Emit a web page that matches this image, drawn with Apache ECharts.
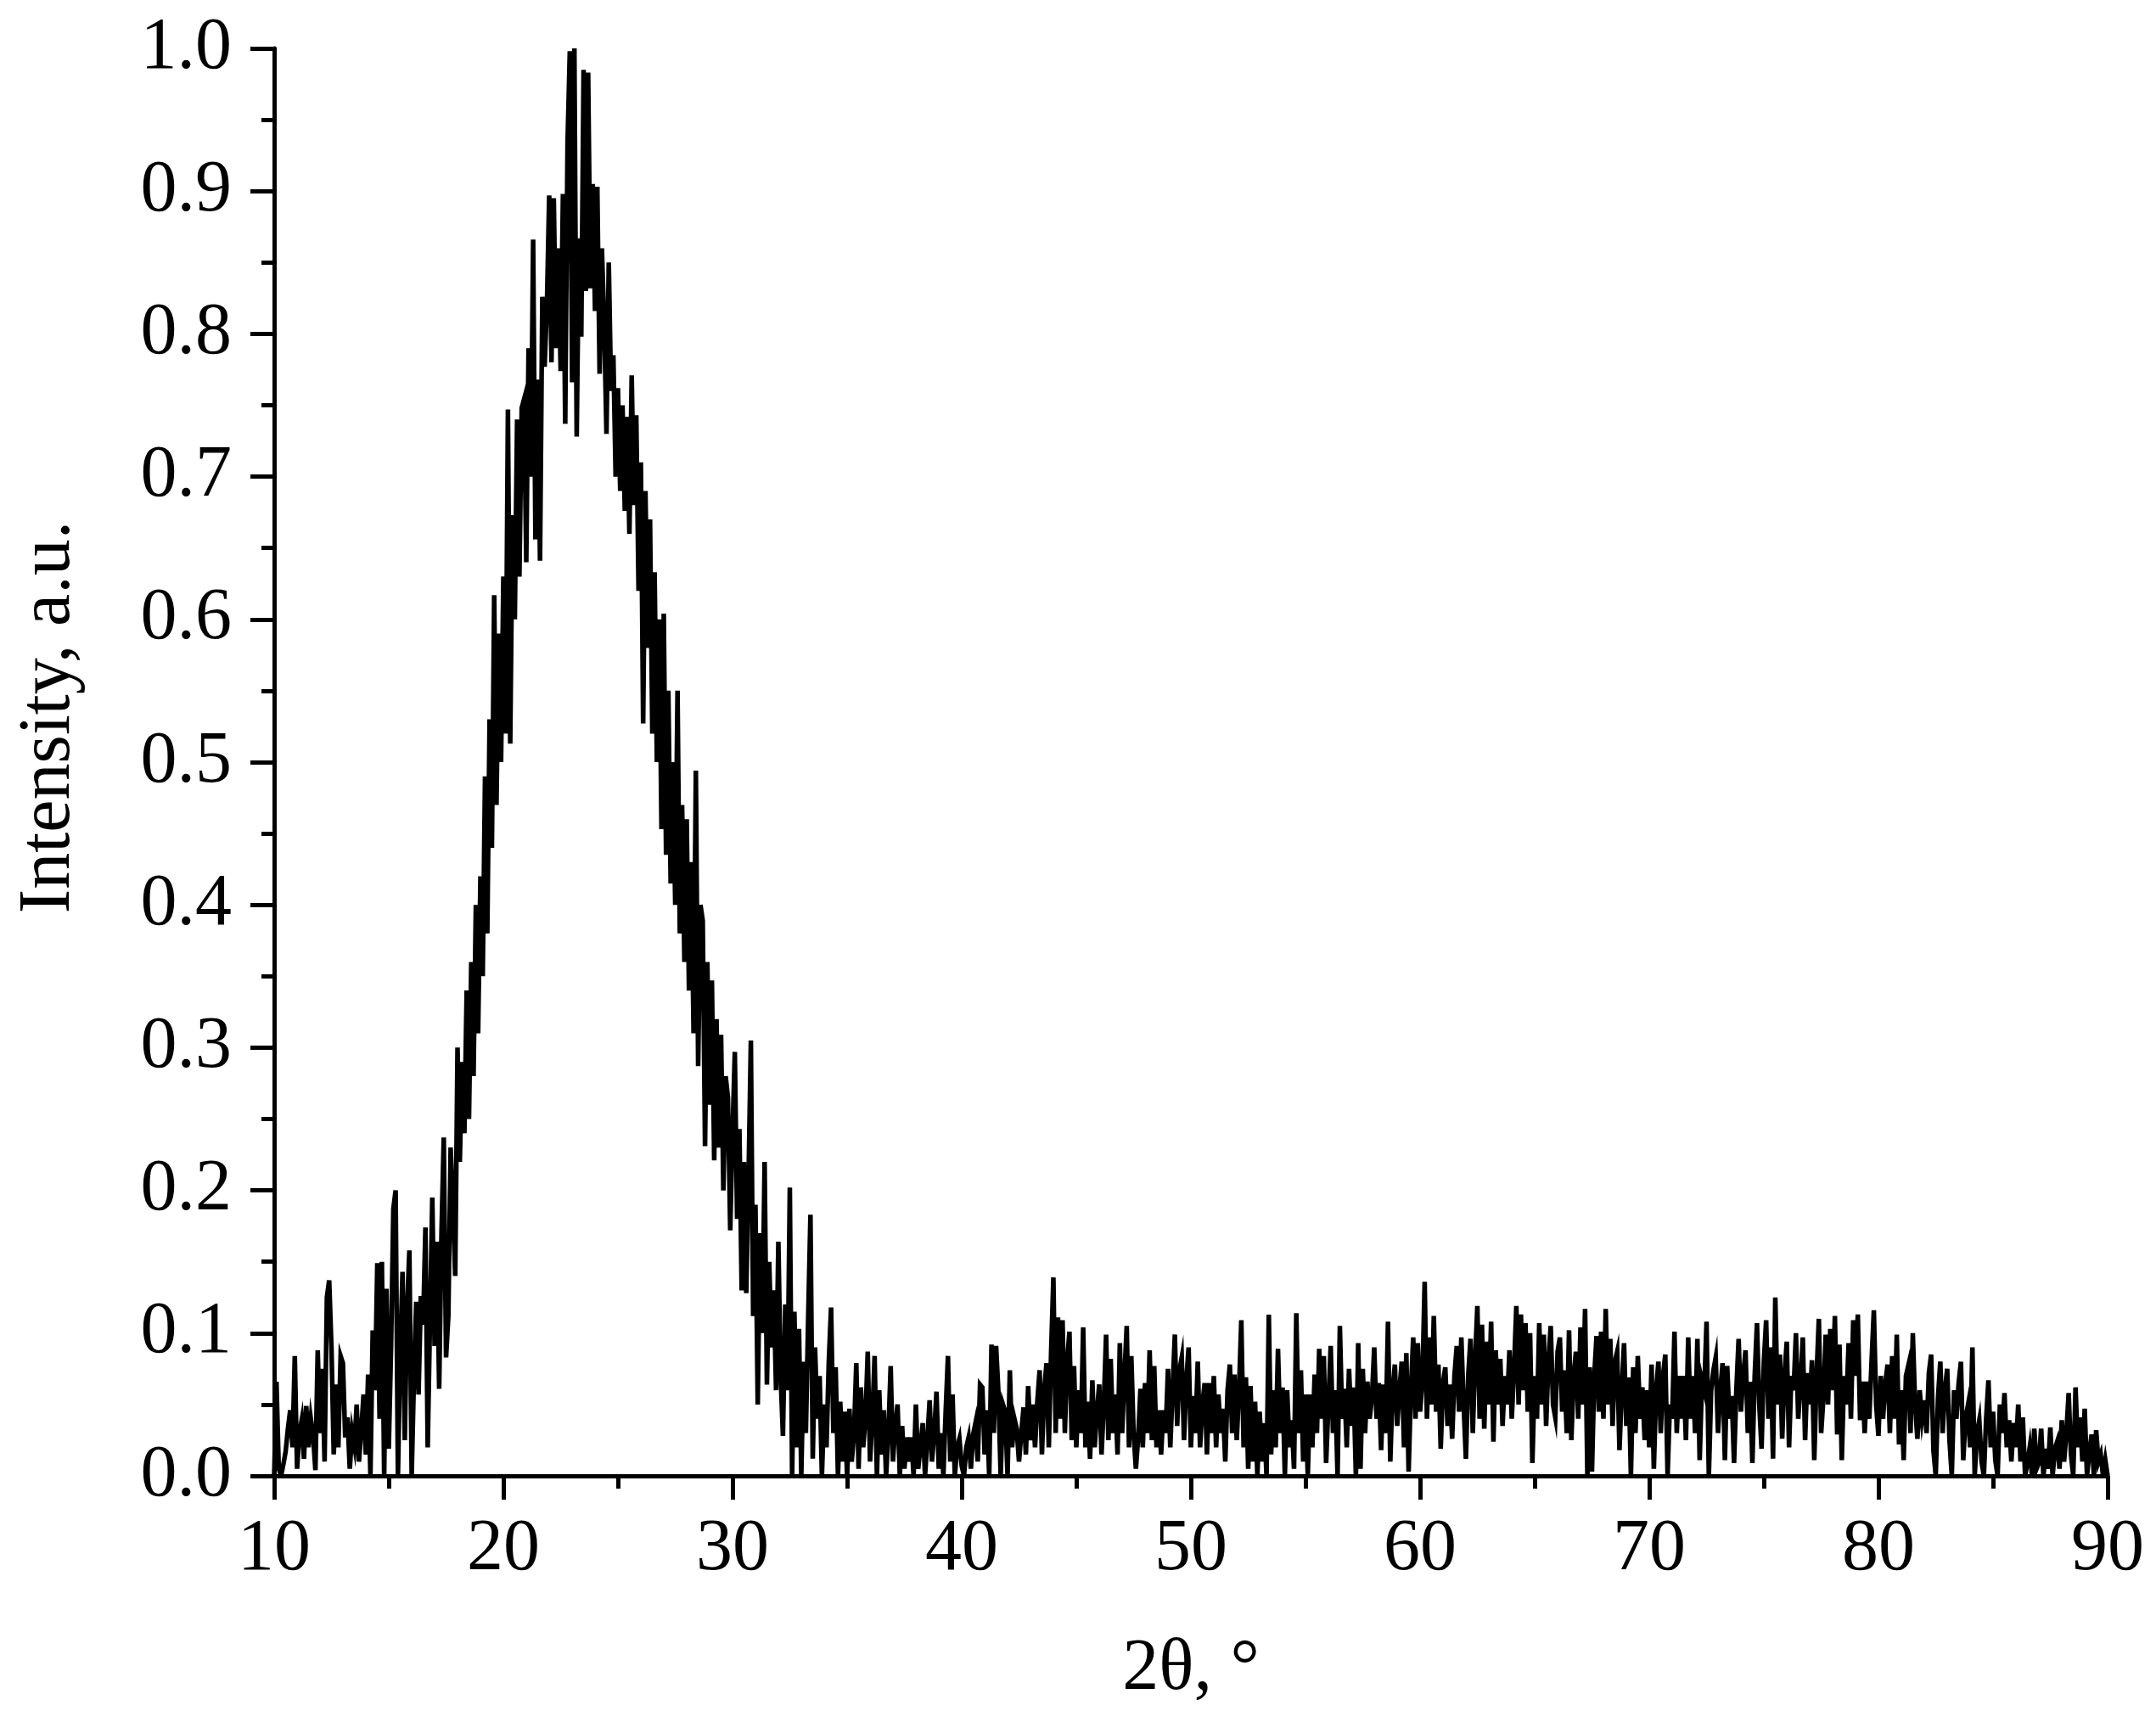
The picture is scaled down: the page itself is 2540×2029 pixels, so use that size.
<!DOCTYPE html>
<html>
<head>
<meta charset="utf-8">
<script src="https://cdn.jsdelivr.net/npm/echarts@6/dist/echarts.min.js"></script>
<style>
html,body{margin:0;padding:0;background:#fff;}
#chart{width:2540px;height:2029px;}
</style>
</head>
<body>
<div id="chart"></div>
<script>
// 2θ scan: first angle and step (degrees)
const angleStart = 10.0;
const angleStep = 0.1;

// Tick labels
const xTicks = [10, 20, 30, 40, 50, 60, 70, 80, 90];
const yTicks = [0.0, 0.1, 0.2, 0.3, 0.4, 0.5, 0.6, 0.7, 0.8, 0.9, 1.0];

// Intensity (a.u.), 0.1° steps
const intensity10to20 = [
  0.0, 0.066, 0.005, 0.0, 0.008, 0.017, 0.033, 0.046, 0.02, 0.084,
  0.005, 0.03, 0.039, 0.012, 0.049, 0.02, 0.04, 0.028, 0.004, 0.088,
  0.03, 0.075, 0.01, 0.125, 0.137, 0.09, 0.015, 0.064, 0.02, 0.084,
  0.079, 0.027, 0.041, 0.005, 0.031, 0.021, 0.05, 0.01, 0.032, 0.057,
  0.015, 0.071, 0.0, 0.102, 0.06, 0.149, 0.04, 0.15, 0.0, 0.131,
  0.019, 0.09, 0.187, 0.2, 0.0, 0.085, 0.143, 0.025, 0.118, 0.158,
  0.0, 0.07, 0.122, 0.057, 0.126, 0.106, 0.174, 0.02, 0.11, 0.195,
  0.091, 0.164, 0.061, 0.17, 0.237, 0.083, 0.112, 0.23, 0.19, 0.14,
  0.30, 0.22, 0.29, 0.24, 0.34, 0.25, 0.36, 0.28, 0.40, 0.31,
  0.42, 0.35, 0.49, 0.38, 0.53, 0.44, 0.617, 0.47, 0.59, 0.50
];
const intensity20to30 = [
  0.63, 0.52, 0.747, 0.513, 0.673, 0.60, 0.74, 0.63, 0.748, 0.754,
  0.64, 0.79, 0.70, 0.866, 0.656, 0.768, 0.641, 0.826, 0.777, 0.819,
  0.897, 0.78, 0.895, 0.79, 0.86, 0.774, 0.898, 0.737, 0.933, 0.998,
  0.766, 1.0, 0.728, 0.867, 0.798, 0.985, 0.83, 0.983, 0.832, 0.905,
  0.816, 0.903, 0.772, 0.86, 0.808, 0.73, 0.85, 0.76, 0.785, 0.70,
  0.762, 0.69, 0.75, 0.676, 0.742, 0.66, 0.771, 0.68, 0.743, 0.62,
  0.71, 0.527, 0.69, 0.58, 0.67, 0.52, 0.633, 0.50, 0.60, 0.453,
  0.604, 0.435, 0.55, 0.415, 0.50, 0.40, 0.55, 0.38, 0.47, 0.36,
  0.46, 0.34, 0.43, 0.31, 0.494, 0.287, 0.40, 0.389, 0.231, 0.36,
  0.26, 0.347, 0.221, 0.32, 0.23, 0.309, 0.20, 0.28, 0.265, 0.172
];
const intensity30to40 = [
  0.24, 0.297, 0.18, 0.243, 0.13, 0.22, 0.128, 0.21, 0.305, 0.112,
  0.19, 0.05, 0.17, 0.10, 0.22, 0.064, 0.15, 0.09, 0.13, 0.06,
  0.164, 0.07, 0.028, 0.12, 0.06, 0.202, 0.0, 0.115, 0.02, 0.103,
  0.0, 0.08, 0.03, 0.11, 0.183, 0.012, 0.09, 0.04, 0.07, 0.0,
  0.05, 0.02, 0.08, 0.118, 0.03, 0.076, 0.0, 0.052, 0.01, 0.045,
  0.0, 0.047, 0.01, 0.03, 0.079, 0.005, 0.062, 0.02, 0.04, 0.087,
  0.01, 0.04, 0.084, 0.0, 0.06, 0.015, 0.046, 0.0, 0.03, 0.077,
  0.01, 0.035, 0.05, 0.0, 0.035, 0.005, 0.027, 0.01, 0.027, 0.0,
  0.05, 0.005, 0.02, 0.037, 0.0, 0.025, 0.053, 0.01, 0.03, 0.059,
  0.005, 0.03, 0.0, 0.045, 0.084, 0.01, 0.057, 0.0, 0.02, 0.026
];
const intensity40to50 = [
  0.007, 0.0, 0.02, 0.027, 0.005, 0.029, 0.037, 0.01, 0.064, 0.062,
  0.015, 0.046, 0.0, 0.092, 0.03, 0.091, 0.059, 0.0, 0.05, 0.045,
  0.0, 0.074, 0.02, 0.04, 0.033, 0.01, 0.03, 0.048, 0.015, 0.063,
  0.025, 0.05, 0.02, 0.052, 0.074, 0.015, 0.06, 0.079, 0.02, 0.086,
  0.139, 0.03, 0.111, 0.04, 0.109, 0.03, 0.08, 0.101, 0.025, 0.077,
  0.02, 0.06, 0.03, 0.104, 0.02, 0.052, 0.012, 0.067, 0.02, 0.045,
  0.064, 0.015, 0.05, 0.099, 0.025, 0.082, 0.03, 0.057, 0.015, 0.093,
  0.03, 0.07, 0.105, 0.02, 0.084, 0.03, 0.005, 0.027, 0.061, 0.02,
  0.065, 0.03, 0.088, 0.025, 0.077, 0.02, 0.046, 0.015, 0.046, 0.03,
  0.075, 0.02, 0.06, 0.099, 0.035, 0.074, 0.083, 0.025, 0.067, 0.09
];
const intensity50to60 = [
  0.02, 0.056, 0.03, 0.08, 0.02, 0.05, 0.065, 0.015, 0.065, 0.03,
  0.07, 0.02, 0.057, 0.03, 0.047, 0.01, 0.06, 0.078, 0.03, 0.071,
  0.025, 0.06, 0.109, 0.02, 0.069, 0.005, 0.063, 0.01, 0.052, 0.0,
  0.045, 0.01, 0.037, 0.0, 0.113, 0.015, 0.06, 0.02, 0.089, 0.03,
  0.062, 0.0, 0.06, 0.02, 0.039, 0.005, 0.114, 0.03, 0.074, 0.01,
  0.057, 0.0, 0.057, 0.02, 0.071, 0.03, 0.089, 0.04, 0.084, 0.009,
  0.05, 0.091, 0.03, 0.06, 0.0, 0.105, 0.04, 0.061, 0.02, 0.075,
  0.035, 0.062, 0.0, 0.093, 0.005, 0.075, 0.03, 0.066, 0.04, 0.055,
  0.09, 0.04, 0.065, 0.018, 0.064, 0.03, 0.108, 0.01, 0.06, 0.078,
  0.035, 0.06, 0.08, 0.02, 0.086, 0.003, 0.06, 0.097, 0.04, 0.093
];
const intensity60to70 = [
  0.045, 0.065, 0.136, 0.04, 0.097, 0.05, 0.112, 0.045, 0.078, 0.019,
  0.065, 0.076, 0.035, 0.064, 0.026, 0.07, 0.091, 0.045, 0.097, 0.05,
  0.012, 0.07, 0.096, 0.03, 0.081, 0.119, 0.04, 0.106, 0.033, 0.094,
  0.05, 0.108, 0.024, 0.088, 0.05, 0.082, 0.035, 0.07, 0.05, 0.088,
  0.04, 0.075, 0.119, 0.05, 0.113, 0.06, 0.107, 0.045, 0.1, 0.009,
  0.07, 0.04, 0.107, 0.05, 0.099, 0.035, 0.08, 0.105, 0.05, 0.041,
  0.087, 0.097, 0.045, 0.074, 0.03, 0.102, 0.025, 0.07, 0.087, 0.04,
  0.104, 0.05, 0.117, 0.0, 0.076, 0.003, 0.07, 0.098, 0.045, 0.101,
  0.04, 0.117, 0.05, 0.096, 0.035, 0.08, 0.087, 0.018, 0.06, 0.093,
  0.035, 0.069, 0.0, 0.076, 0.03, 0.084, 0.04, 0.062, 0.025, 0.06
];
const intensity70to80 = [
  0.02, 0.078, 0.005, 0.06, 0.08, 0.03, 0.07, 0.085, 0.0, 0.05,
  0.04, 0.101, 0.03, 0.07, 0.04, 0.07, 0.025, 0.097, 0.04, 0.07,
  0.03, 0.096, 0.011, 0.067, 0.06, 0.108, 0.0, 0.06, 0.074, 0.083,
  0.03, 0.06, 0.079, 0.011, 0.077, 0.04, 0.056, 0.009, 0.06, 0.096,
  0.045, 0.07, 0.088, 0.03, 0.066, 0.009, 0.07, 0.107, 0.05, 0.019,
  0.08, 0.109, 0.04, 0.09, 0.012, 0.125, 0.05, 0.085, 0.026, 0.07,
  0.094, 0.02, 0.07, 0.06, 0.1, 0.04, 0.065, 0.097, 0.025, 0.072,
  0.05, 0.081, 0.011, 0.07, 0.11, 0.03, 0.055, 0.099, 0.05, 0.103,
  0.06, 0.112, 0.029, 0.092, 0.011, 0.07, 0.05, 0.093, 0.04, 0.109,
  0.07, 0.113, 0.039, 0.066, 0.03, 0.066, 0.04, 0.08, 0.116, 0.05
];
const intensity80to90 = [
  0.028, 0.07, 0.04, 0.065, 0.078, 0.03, 0.084, 0.04, 0.099, 0.022,
  0.06, 0.011, 0.07, 0.077, 0.03, 0.1, 0.05, 0.026, 0.06, 0.04,
  0.053, 0.03, 0.072, 0.085, 0.018, 0.0, 0.055, 0.08, 0.03, 0.06,
  0.075, 0.025, 0.0, 0.06, 0.04, 0.065, 0.08, 0.011, 0.04, 0.049,
  0.02, 0.09, 0.0, 0.03, 0.039, 0.01, 0.0, 0.04, 0.067, 0.02,
  0.045, 0.011, 0.0, 0.05, 0.03, 0.058, 0.02, 0.039, 0.01, 0.037,
  0.02, 0.05, 0.01, 0.041, 0.0, 0.009, 0.02, 0.0, 0.033, 0.005,
  0.009, 0.033, 0.0, 0.019, 0.005, 0.034, 0.0, 0.019, 0.024, 0.005,
  0.039, 0.01, 0.03, 0.058, 0.015, 0.0, 0.062, 0.02, 0.041, 0.01,
  0.047, 0.0, 0.016, 0.029, 0.0, 0.032, 0.01, 0.015, 0.0, 0.011,
  0.0
];

const intensity = [].concat(
  intensity10to20, intensity20to30, intensity30to40, intensity40to50,
  intensity50to60, intensity60to70, intensity70to80, intensity80to90
);
const seriesData = intensity.map((v, i) => [+(angleStart + i * angleStep).toFixed(2), v]);

const FONT = '"Liberation Serif", "Times New Roman", serif';
const FS = 86;

const chart = echarts.init(document.getElementById('chart'), null, { renderer: 'canvas' });
chart.setOption({
  animation: false,
  backgroundColor: '#ffffff',
  grid: { left: 323, top: 57, width: 2160, height: 1682, containLabel: false },
  xAxis: {
    type: 'value',
    min: xTicks[0],
    max: xTicks[xTicks.length - 1],
    interval: 10,
    splitLine: { show: false },
    axisLine: { show: true, onZero: false, lineStyle: { color: '#000', width: 5 } },
    axisTick: { show: true, inside: false, length: 28, lineStyle: { color: '#000', width: 5 } },
    minorTick: { show: true, splitNumber: 2, length: 15, lineStyle: { color: '#000', width: 5 } },
    axisLabel: { color: '#000', fontFamily: FONT, fontSize: FS, margin: 44 }
  },
  yAxis: {
    type: 'value',
    min: yTicks[0],
    max: yTicks[yTicks.length - 1],
    interval: 0.1,
    splitLine: { show: false },
    axisLine: { show: true, onZero: false, lineStyle: { color: '#000', width: 5 } },
    axisTick: { show: true, inside: false, length: 28, lineStyle: { color: '#000', width: 5 } },
    minorTick: { show: true, splitNumber: 2, length: 15, lineStyle: { color: '#000', width: 5 } },
    axisLabel: { color: '#000', fontFamily: FONT, fontSize: FS, margin: 50,
      formatter: v => v.toFixed(1) }
  },
  graphic: [
    { type: 'text', x: 1403, y: 1967,
      style: { text: '2θ, °', fill: '#000', font: FS + 'px ' + FONT, textAlign: 'center', textVerticalAlign: 'middle' } },
    { type: 'text', x: 58, y: 845, rotation: Math.PI / 2,
      style: { text: 'Intensity, a.u.', fill: '#000', font: FS + 'px ' + FONT, textAlign: 'center', textVerticalAlign: 'middle' } }
  ],
  series: [{
    type: 'line',
    data: seriesData,
    showSymbol: false,
    symbol: 'none',
    sampling: false,
    lineStyle: { color: '#000', width: 5.5, join: 'miter' },
    clip: true
  }]
}); 
</script>
</body>
</html>
